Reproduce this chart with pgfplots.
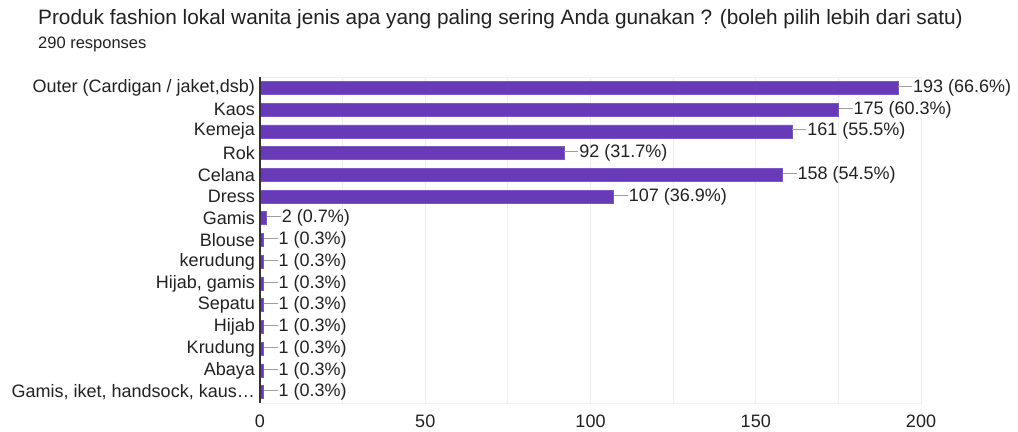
\documentclass[border=0pt]{standalone}
\usepackage{fontspec}
\setmainfont{Liberation Sans}
\usepackage{pgfplots}
\pgfplotsset{compat=1.18}
\definecolor{barpurple}{HTML}{673AB7}
\definecolor{gridgray}{HTML}{EEEEEE}
\definecolor{leadgray}{HTML}{9E9E9E}
\definecolor{txt}{HTML}{212121}
\definecolor{axisdark}{HTML}{333333}
\begin{document}
\begin{tikzpicture}[x=1bp,y=1bp]
\useasboundingbox (0,0) rectangle (1018,431);
\node[anchor=base west, inner sep=0pt, text=txt, font=\fontsize{20.8bp}{24bp}\selectfont] at (38,406) {Produk fashion lokal wanita jenis apa yang paling sering Anda gunakan ? (boleh pilih lebih dari satu)};
\node[anchor=base west, inner sep=0pt, text=txt, font=\fontsize{16.5bp}{19bp}\selectfont] at (38,383) {290 responses};
\begin{axis}[
  at={(260bp,28bp)}, anchor=south west,
  scale only axis, width=661bp, height=326bp,
  xbar, bar width=13bp,
  xmin=0, xmax=200, ymin=-0.5, ymax=14.5,
  y dir=reverse,
  xtick={0,50,100,150,200},
  minor xtick={25,75,125,175},
  xmajorgrids, xminorgrids,
  grid style={draw=gridgray, line width=0.8bp},
  minor grid style={draw=gridgray, line width=0.8bp},
  axis line style={draw=gridgray, line width=0.8bp},
  major tick length=0pt, minor tick length=0pt,
  ytick={0,...,14},
  yticklabels={{Outer (Cardigan / jaket,dsb)},Kaos,Kemeja,Rok,Celana,Dress,Gamis,Blouse,kerudung,{Hijab, gamis},Sepatu,Hijab,Krudung,Abaya,{Gamis, iket, handsock, kaus…}},
  /pgf/number format/assume math mode=true,
  ticklabel style={text=txt, font=\fontsize{18bp}{21bp}\selectfont},
  yticklabel style={inner sep=0pt, xshift=-5bp},
  xticklabel style={yshift=-8bp},
  point meta=explicit symbolic,
  nodes near coords={\textcolor{leadgray}{\rule[0.32em]{14bp}{0.8bp}}\hspace{1bp}\pgfplotspointmeta},
  every node near coord/.append style={anchor=west, inner sep=0pt, text=txt, font=\fontsize{18bp}{21bp}\selectfont},
  clip=false,
]
\addplot[fill=barpurple, draw=barpurple!85!white, line width=0.6bp] coordinates {
(193,0) [193 (66.6\%)]
(175,1) [175 (60.3\%)]
(161,2) [161 (55.5\%)]
(92,3) [92 (31.7\%)]
(158,4) [158 (54.5\%)]
(107,5) [107 (36.9\%)]
(2,6) [2 (0.7\%)]
(1,7) [1 (0.3\%)]
(1,8) [1 (0.3\%)]
(1,9) [1 (0.3\%)]
(1,10) [1 (0.3\%)]
(1,11) [1 (0.3\%)]
(1,12) [1 (0.3\%)]
(1,13) [1 (0.3\%)]
(1,14) [1 (0.3\%)]
};
\draw[axisdark, line width=1.2bp] (rel axis cs:0,0) -- (rel axis cs:0,1);
\end{axis}
\end{tikzpicture}
\end{document}
